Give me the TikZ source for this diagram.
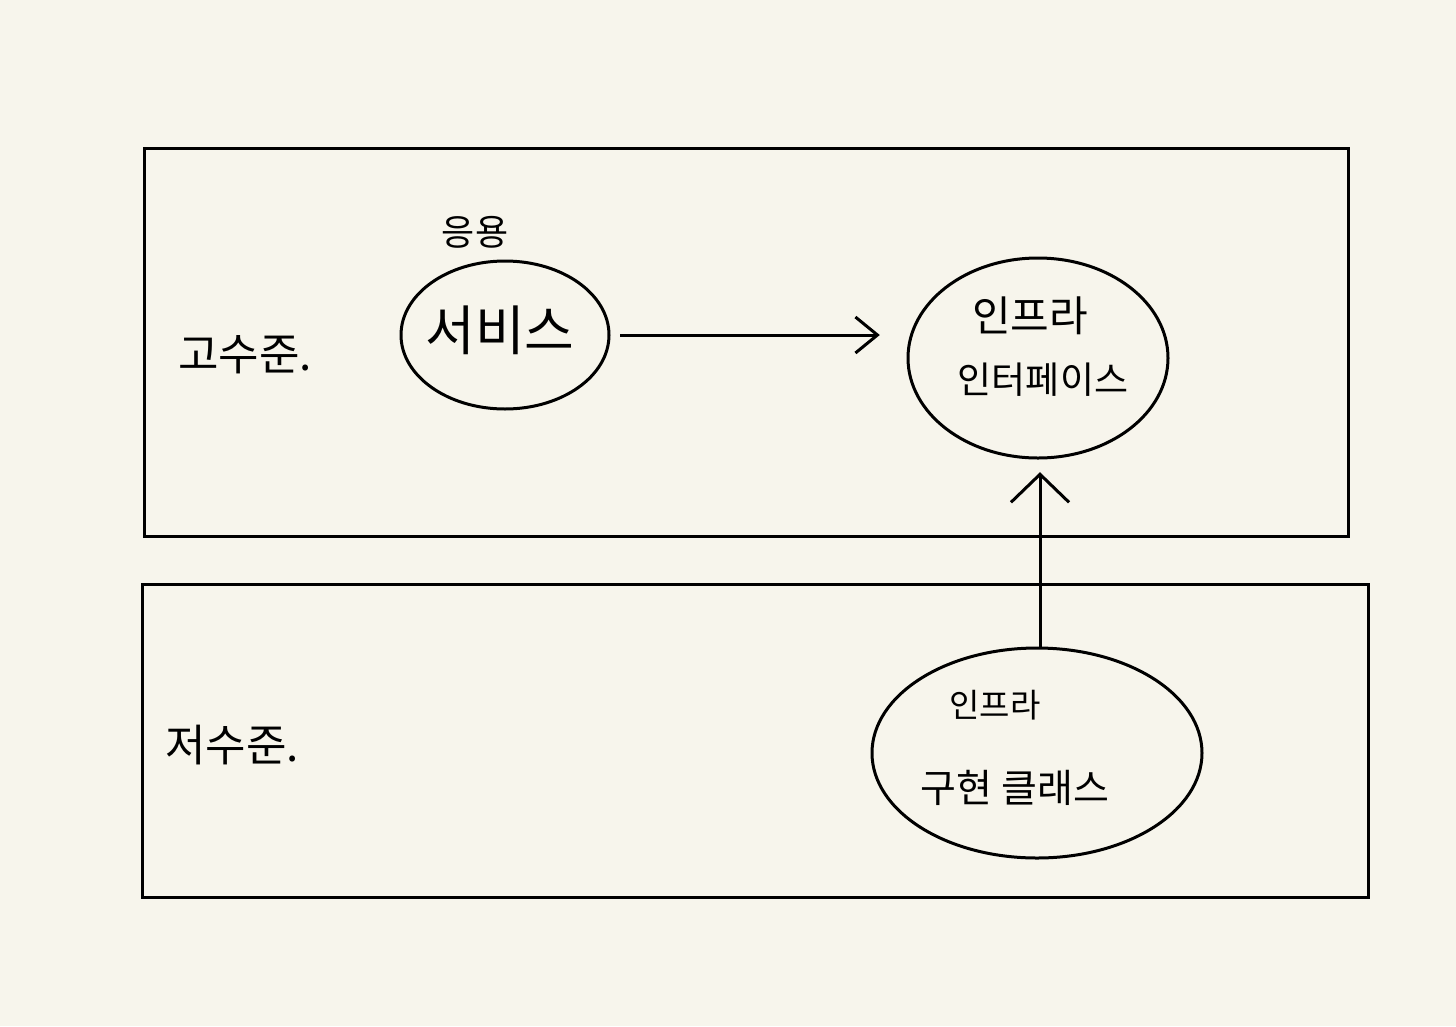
\documentclass[tikz,border=0pt]{standalone}
\usepackage{fontspec}
\newfontfamily\kr{Noto Sans CJK KR}
\usetikzlibrary{arrows.meta}
\definecolor{paper}{HTML}{F7F5EC}
\tikzset{
  x=1pt,y=-1pt,
  frame/.style={draw=black,line width=3pt},
  hand/.style={font=\kr, text=black, align=center},
  link/.style={line width=3pt}
}
\begin{document}
\begin{tikzpicture}
\fill[paper] (0,0) rectangle (1456,1026);
\useasboundingbox (0,0) rectangle (1456,1026);
\draw[frame] (144,148) rectangle (1348,536);
\draw[frame] (142,584) rectangle (1368,897);
\draw[line width=3pt] (505,335) ellipse [x radius=104, y radius=74];
\node[minimum width=208pt,minimum height=148pt,inner sep=0pt] (svc) at (505,335) {};
\draw[line width=3pt] (1038,358) ellipse [x radius=130, y radius=100];
\node[minimum width=260pt,minimum height=200pt,inner sep=0pt] (ifc) at (1038,358) {};
\draw[line width=3pt] (1037,753) ellipse [x radius=165, y radius=105];
\node[minimum width=330pt,minimum height=210pt,inner sep=0pt] (impl) at (1040,753) {};
\node[hand,font=\kr\fontsize{44}{46}\selectfont] (hi) at (245,355) {고수준.};
\node[hand,font=\kr\fontsize{44}{46}\selectfont] (lo) at (232,745) {저수준.};
\node[hand,font=\kr\fontsize{36}{38}\selectfont] (app) at (475,232) {응용};
\node[hand,font=\kr\fontsize{54}{56}\selectfont] (svct) at (500,330) {서비스};
\node[hand,font=\kr\fontsize{42}{44}\selectfont] (if1) at (1030,316) {인프라};
\node[hand,font=\kr\fontsize{37}{39}\selectfont] (if2) at (1043,380) {인터페이스};
\node[hand,font=\kr\fontsize{33}{35}\selectfont] (im1) at (995,705) {인프라};
\node[hand,font=\kr\fontsize{39}{41}\selectfont] (im2) at (1015,788) {구현 클래스};
\draw[link,-{Straight Barb[length=22pt,width=36pt,line width=3pt]},shorten <=11pt,shorten >=28pt] (svc.east) -- (svc.east -| ifc.west);
\draw[link,-{Straight Barb[length=28pt,width=58pt,line width=3pt]},shorten >=14pt] (impl.north) -- (impl.north |- ifc.south);
\end{tikzpicture}
\end{document}
